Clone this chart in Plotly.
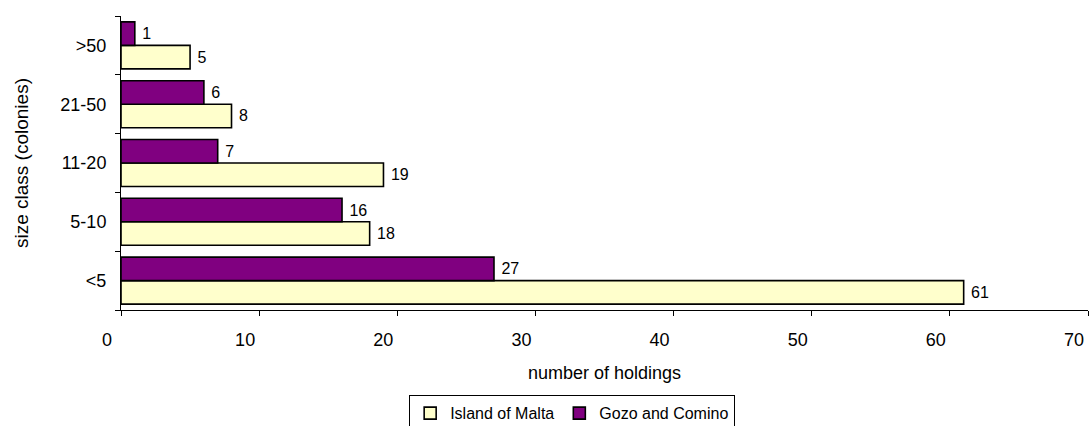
import plotly.graph_objects as go

categories = ["<5", "5-10", "11-20", "21-50", ">50"]
malta = [61, 18, 19, 8, 5]
gozo = [27, 16, 7, 6, 1]
x_ticks = [0, 10, 20, 30, 40, 50, 60, 70]

FONT = "Liberation Sans, Arial, sans-serif"

fig = go.Figure()
fig.add_trace(go.Bar(
    y=categories, x=malta, orientation="h", name="Island of Malta",
    marker=dict(color="#FFFFCC", line=dict(color="black", width=1.6)),
    text=[f" {v}" for v in malta], textposition="outside",
    textfont=dict(family=FONT, size=16, color="black"), cliponaxis=False,
))
fig.add_trace(go.Bar(
    y=categories, x=gozo, orientation="h", name="Gozo and Comino",
    marker=dict(color="#800080", line=dict(color="black", width=1.6)),
    text=[f" {v}" for v in gozo], textposition="outside",
    textfont=dict(family=FONT, size=16, color="black"), cliponaxis=False,
))

fig.update_layout(
    width=1089, height=426,
    margin=dict(l=121, r=1, t=16, b=116, pad=0, autoexpand=False),
    paper_bgcolor="white", plot_bgcolor="white",
    barmode="group", bargap=0.2, bargroupgap=0,
    font=dict(family=FONT, size=18, color="black"),
    xaxis=dict(
        range=[0, 70], tickvals=x_ticks, ticks="outside", ticklen=5,
        tickcolor="black", showline=True, linecolor="black", linewidth=1,
        showgrid=False, zeroline=False, ticklabelshift=-14,
        ticklabelstandoff=8, tickfont=dict(size=18), automargin=False,
    ),
    yaxis=dict(
        categoryorder="array", categoryarray=categories,
        ticks="outside", ticklen=5, tickcolor="black", tickson="boundaries",
        showline=True, linecolor="black", linewidth=1, showgrid=False,
        zeroline=False, tickfont=dict(size=18), ticklabelstandoff=10,
        automargin=False,
    ),
    showlegend=True,
    legend=dict(
        orientation="h", x=0.298, xanchor="left", y=-0.29, yanchor="top",
        bordercolor="black", borderwidth=1, font=dict(size=16),
        itemwidth=30, tracegroupgap=0,
    ),
    annotations=[
        dict(text="number of holdings", xref="paper", yref="paper",
             x=0.5, y=-0.214, xanchor="center", yanchor="middle",
             showarrow=False, font=dict(size=18)),
        dict(text="size class (colonies)", xref="paper", yref="paper",
             x=-0.1034, y=0.5, xanchor="center", yanchor="middle",
             textangle=-90, showarrow=False, font=dict(size=19)),
    ],
)

fig.write_html(
    "out.html",
    config={"displayModeBar": False},
    post_script="document.body.style.margin='0';document.body.style.overflow='hidden';",
)
